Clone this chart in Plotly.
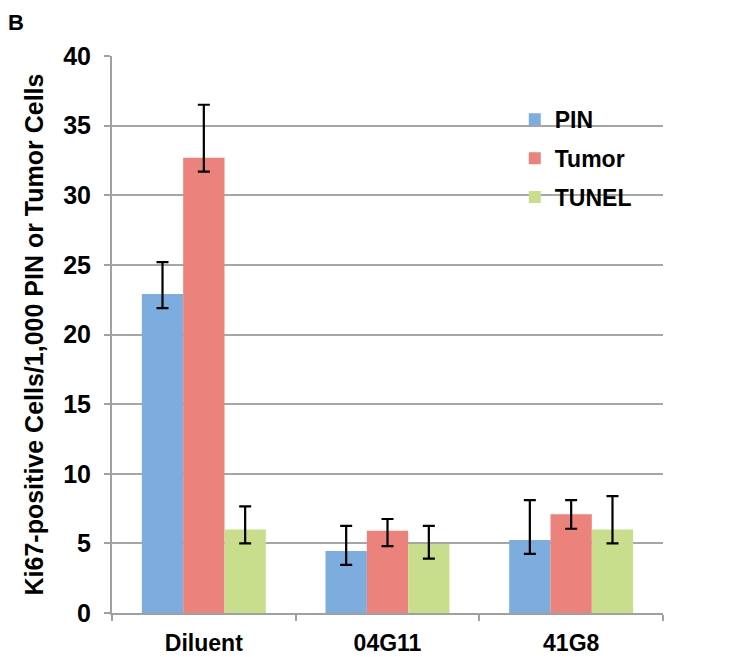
import plotly.graph_objects as go

categories = ["Diluent", "04G11", "41G8"]
series_names = ["PIN", "Tumor", "TUNEL"]
pin_values = [22.9, 4.45, 5.25]
tumor_values = [32.7, 5.9, 7.1]
tunel_values = [6.0, 4.95, 6.0]
pin_err_plus = [2.3, 1.8, 2.85]
pin_err_minus = [1.0, 1.0, 1.0]
tumor_err_plus = [3.8, 0.85, 1.0]
tumor_err_minus = [1.0, 1.1, 1.05]
tunel_err_plus = [1.65, 1.3, 2.4]
tunel_err_minus = [1.0, 1.05, 1.0]
y_ticks = [0, 5, 10, 15, 20, 25, 30, 35, 40]

colors = ["#7dacdf", "#ec827c", "#c9de8c"]
FONT = "Liberation Sans, Arial, sans-serif"

fig = go.Figure()
for name, vals, ep, em, col in zip(
    series_names,
    [pin_values, tumor_values, tunel_values],
    [pin_err_plus, tumor_err_plus, tunel_err_plus],
    [pin_err_minus, tumor_err_minus, tunel_err_minus],
    colors,
):
    fig.add_trace(go.Bar(
        x=categories, y=vals, name=name, legendgroup=name,
        marker=dict(color=col, line=dict(width=0)),
        error_y=dict(type="data", symmetric=False, array=ep, arrayminus=em,
                     color="black", thickness=2.2, width=6),
    ))

# page body has an 8px margin; figure sized/margined to compensate
fig.update_layout(
    width=730, height=649,
    margin=dict(l=104, r=75, t=48, b=44, autoexpand=False),
    paper_bgcolor="white", plot_bgcolor="white",
    barmode="group", bargap=0.325, bargroupgap=0,
    font=dict(family=FONT, color="black"),
    showlegend=True,
    legend=dict(x=0.731, y=0.925, xanchor="left", yanchor="top",
                font=dict(size=23, family=FONT, color="black", weight="bold"),
                traceorder="grouped", tracegroupgap=6,
                bgcolor="rgba(0,0,0,0)", itemwidth=30),
    xaxis=dict(showline=True, linecolor="#a0a0a0", linewidth=2, automargin=False,
               ticks="outside", tickson="boundaries", ticklen=6, tickcolor="#a0a0a0", tickwidth=2,
               ticklabelstandoff=8,
               tickfont=dict(size=23, family=FONT, color="black", weight="bold"),
               showgrid=False),
    yaxis=dict(range=[0, 40], tickvals=y_ticks, showline=True, linecolor="#a0a0a0", linewidth=2,
               automargin=False,
               ticks="outside", ticklen=6, tickcolor="#a0a0a0", tickwidth=2,
               ticklabelstandoff=8,
               showgrid=True, gridcolor="#a6a6a6", gridwidth=2, zeroline=False,
               tickfont=dict(size=25, family=FONT, color="black", weight="bold"),
               title=dict(text="Ki67-positive Cells/1,000 PIN or Tumor Cells",
                          font=dict(size=25, family=FONT, color="black", weight="bold"),
                          standoff=12)),
)
fig.add_annotation(text="<b>B</b>", xref="paper", yref="paper",
                   x=-106/551, y=1 + 34/557, xanchor="left", yanchor="middle",
                   showarrow=False, font=dict(size=22, family=FONT, color="black"))

fig.write_html("out.html")
